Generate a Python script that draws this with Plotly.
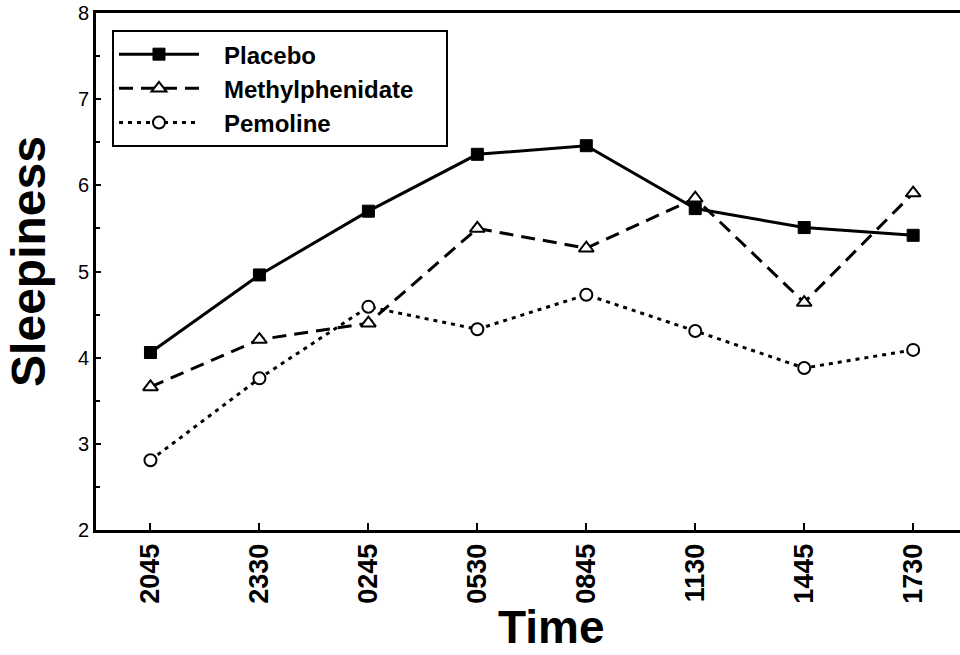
import plotly.graph_objects as go

times = ["2045", "2330", "0245", "0530", "0845", "1130", "1445", "1730"]
placebo = [4.06, 4.96, 5.70, 6.36, 6.46, 5.73, 5.51, 5.42]
methylphenidate = [3.66, 4.21, 4.40, 5.50, 5.27, 5.85, 4.64, 5.91]
pemoline = [2.81, 3.76, 4.59, 4.33, 4.73, 4.31, 3.88, 4.09]
y_ticks = [2, 3, 4, 5, 6, 7, 8]
series_names = ["Placebo", "Methylphenidate", "Pemoline"]

FONT = "Liberation Sans, Arial, Helvetica, sans-serif"
LPAD = "\u00a0\u00a0\u00a0"
RPAD = "\u00a0\u00a0\u00a0\u00a0"

fig = go.Figure()
fig.add_trace(go.Scatter(
    x=times, y=placebo, name=LPAD + series_names[0] + RPAD, mode="lines+markers",
    line=dict(color="black", width=3, dash="solid"),
    marker=dict(symbol="square", size=12, color="black", line=dict(color="black", width=1)),
))
fig.add_trace(go.Scatter(
    x=times, y=methylphenidate, name=LPAD + series_names[1] + RPAD, mode="lines+markers",
    line=dict(color="black", width=3, dash="14px,8px"),
    marker=dict(symbol="triangle-up", size=13, color="white", line=dict(color="black", width=2)),
))
fig.add_trace(go.Scatter(
    x=times, y=pemoline, name=LPAD + series_names[2] + RPAD, mode="lines+markers",
    line=dict(color="black", width=3, dash="4px,5px"),
    marker=dict(symbol="circle", size=12, color="white", line=dict(color="black", width=2)),
))

fig.update_layout(
    width=960, height=655,
    margin=dict(l=96, r=0, t=13, b=125),
    paper_bgcolor="white", plot_bgcolor="white",
    font=dict(family=FONT, color="black"),
    showlegend=True,
    legend=dict(
        x=0.0185, y=0.967, xanchor="left", yanchor="top",
        bordercolor="black", borderwidth=2, bgcolor="white",
        font=dict(size=24, family=FONT, color="black", weight="bold"),
        itemwidth=80, tracegroupgap=0,
    ),
    xaxis=dict(
        type="category", range=[-0.5, 7.43],
        tickvals=times, ticktext=times,
        tickangle=-90, ticks="inside", ticklen=7, tickwidth=2, tickcolor="black",
        tickfont=dict(size=27, family=FONT, color="black", weight="bold"),
        showline=True, linecolor="black", linewidth=3, mirror=True,
        showgrid=False, zeroline=False,
    ),
    yaxis=dict(
        range=[2, 8], tickvals=y_ticks,
        ticks="inside", ticklen=5, tickwidth=2, tickcolor="black",
        minor=dict(dtick=0.5, ticks="inside", ticklen=4, tickwidth=1.5, tickcolor="black"),
        tickfont=dict(size=20, family=FONT, color="black"),
        showline=True, linecolor="black", linewidth=3,
        showgrid=False, zeroline=False,
    ),
    annotations=[
        dict(text="Sleepiness", xref="paper", yref="paper", x=-0.079, y=0.52,
             xanchor="center", yanchor="middle", textangle=-90, showarrow=False,
             font=dict(size=48, family=FONT, color="black", weight="bold")),
        dict(text="Time", xref="paper", yref="paper", x=0.527, y=-0.188,
             xanchor="center", yanchor="middle", showarrow=False,
             font=dict(size=46, family=FONT, color="black", weight="bold")),
    ],
)

fig.write_html("out.html", config={"displayModeBar": False},
               post_script="document.body.style.margin='0';")
